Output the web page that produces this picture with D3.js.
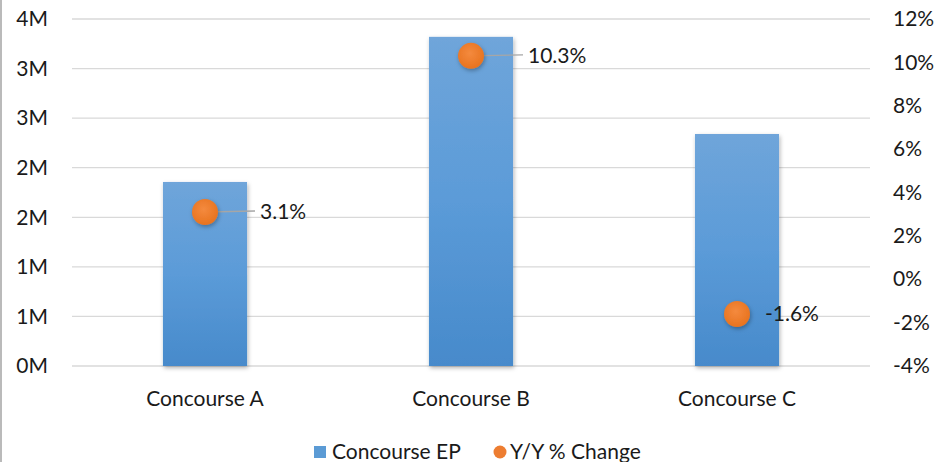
<!DOCTYPE html>
<html>
<head>
<meta charset="utf-8">
<script src="https://cdn.jsdelivr.net/npm/d3@7"></script>
<style>
  body { margin: 0; background: #fff; }
  svg { display: block; font-family: Lato, "Open Sans", sans-serif; }
</style>
</head>
<body>
<div id="main_svg"></div>
<script>
// chart data
var categories = ["Concourse A", "Concourse B", "Concourse C"];
var passengers = [1856000, 3320000, 2340000];
var yoyChange = [3.1, 10.3, -1.6];
var leftTicks = [0, 500000, 1000000, 1500000, 2000000, 2500000, 3000000, 3500000];
var rightTicks = [-4, -2, 0, 2, 4, 6, 8, 10, 12];
var legendNames = ["Concourse EP", "Y/Y % Change"];

var W = 943, H = 462;
var margin = {top: 19, right: 73, bottom: 96, left: 72},
    width = W - margin.left - margin.right,
    height = H - margin.top - margin.bottom;

var svg = d3.select("#main_svg").append("svg")
    .attr("width", W)
    .attr("height", H);

// left frame edge
svg.append("line")
    .attr("x1", 1).attr("x2", 1).attr("y1", 0).attr("y2", H)
    .attr("stroke", "#8c8c8c").attr("stroke-width", 1.2);

var defs = svg.append("defs");
var barGrad = defs.append("linearGradient").attr("id", "barGrad")
    .attr("x1", 0).attr("y1", 0).attr("x2", 0).attr("y2", 1);
barGrad.append("stop").attr("offset", "0%").attr("stop-color", "#6fa5da");
barGrad.append("stop").attr("offset", "50%").attr("stop-color", "#5b9bd8");
barGrad.append("stop").attr("offset", "100%").attr("stop-color", "#478acb");

var dotGrad = defs.append("radialGradient").attr("id", "dotGrad")
    .attr("cx", "45%").attr("cy", "40%").attr("r", "60%");
dotGrad.append("stop").attr("offset", "0%").attr("stop-color", "#f48a3e");
dotGrad.append("stop").attr("offset", "100%").attr("stop-color", "#e8731f");

var shadow = defs.append("filter").attr("id", "shadow")
    .attr("x", "-30%").attr("y", "-30%").attr("width", "160%").attr("height", "160%");
shadow.append("feDropShadow").attr("dx", 1).attr("dy", 2).attr("stdDeviation", 2)
    .attr("flood-color", "#000").attr("flood-opacity", 0.3);

var g = svg.append("g")
    .attr("transform", "translate(" + margin.left + "," + margin.top + ")");

// scales
var x = d3.scaleBand()
    .domain(categories)
    .range([0, width])
    .paddingInner(0.684)
    .paddingOuter(0.342);
var y = d3.scaleLinear().domain([0, 3500000]).range([height, 0]);
var y2 = d3.scaleLinear().domain([-4, 12]).range([height, 0]);

// gridlines
g.append("g").selectAll("line")
    .data(leftTicks)
    .enter().append("line")
    .attr("x1", 0).attr("x2", width)
    .attr("y1", function (d) { return y(d); })
    .attr("y2", function (d) { return y(d); })
    .attr("stroke", "#d9d9d9").attr("stroke-width", 1.3);

// left axis
var leftAxis = g.append("g")
    .call(d3.axisLeft(y).tickValues(leftTicks).tickSize(0).tickPadding(24)
        .tickFormat(function (d) { return Math.round(d / 1000000) + "M"; }));
leftAxis.select(".domain").remove();

// right axis
var rightAxis = g.append("g")
    .attr("transform", "translate(" + width + ",0)")
    .call(d3.axisRight(y2).tickValues(rightTicks).tickSize(0).tickPadding(23)
        .tickFormat(function (d) { return d + "%"; }));
rightAxis.select(".domain").remove();

// bottom axis
var bottomAxis = g.append("g")
    .attr("transform", "translate(0," + height + ")")
    .call(d3.axisBottom(x).tickSize(0).tickPadding(25));
bottomAxis.select(".domain").remove();

svg.selectAll(".tick text")
    .attr("font-size", "21px")
    .attr("fill", "#1a1a1a")
    .attr("font-family", "Lato, 'Open Sans', sans-serif");

// bars
g.selectAll(".bar")
    .data(categories)
    .enter().append("rect")
    .attr("class", "bar")
    .attr("fill", "url(#barGrad)")
    .attr("filter", "url(#shadow)")
    .attr("x", function (d) { return x(d); })
    .attr("width", x.bandwidth())
    .attr("y", function (d, i) { return y(passengers[i]); })
    .attr("height", function (d, i) { return height - y(passengers[i]); });

// leader lines
var labelOffset = [50, 52, 0];
g.selectAll(".leader")
    .data(categories)
    .enter().append("line")
    .filter(function (d, i) { return labelOffset[i] > 0; })
    .attr("x1", function (d) { return x(d) + x.bandwidth() / 2; })
    .attr("x2", function (d) { return x(d) + x.bandwidth() / 2 + labelOffset[categories.indexOf(d)]; })
    .attr("y1", function (d) { return y2(yoyChange[categories.indexOf(d)]); })
    .attr("y2", function (d) { return y2(yoyChange[categories.indexOf(d)]) - 1; })
    .attr("stroke", "#a6a6a6").attr("stroke-width", 1.3);

// markers
g.selectAll(".dot")
    .data(categories)
    .enter().append("circle")
    .attr("class", "dot")
    .attr("fill", "url(#dotGrad)")
    .attr("filter", "url(#shadow)")
    .attr("cx", function (d) { return x(d) + x.bandwidth() / 2; })
    .attr("cy", function (d, i) { return y2(yoyChange[i]); })
    .attr("r", 13);

// data labels
var labelDx = [55, 57, 28];
g.selectAll(".dlabel")
    .data(categories)
    .enter().append("text")
    .attr("x", function (d, i) { return x(d) + x.bandwidth() / 2 + labelDx[i]; })
    .attr("y", function (d, i) { return y2(yoyChange[i]); })
    .attr("dy", "0.35em")
    .attr("font-size", "21px")
    .attr("fill", "#1a1a1a")
    .text(function (d, i) { return yoyChange[i].toFixed(1) + "%"; });

// legend
var legend = svg.append("g").attr("transform", "translate(314,452)");
legend.append("rect")
    .attr("x", 0).attr("y", -6).attr("width", 12).attr("height", 12)
    .attr("fill", "#5b9bd5");
legend.append("text")
    .attr("x", 18).attr("y", 0).attr("dy", "0.35em")
    .attr("font-size", "21px").attr("fill", "#1a1a1a")
    .text(legendNames[0]);
legend.append("circle")
    .attr("cx", 186).attr("cy", 0).attr("r", 6.5)
    .attr("fill", "#ed7d31");
legend.append("text")
    .attr("x", 196).attr("y", 0).attr("dy", "0.35em")
    .attr("font-size", "21px").attr("fill", "#1a1a1a")
    .text(legendNames[1]);
</script>
</body>
</html>
